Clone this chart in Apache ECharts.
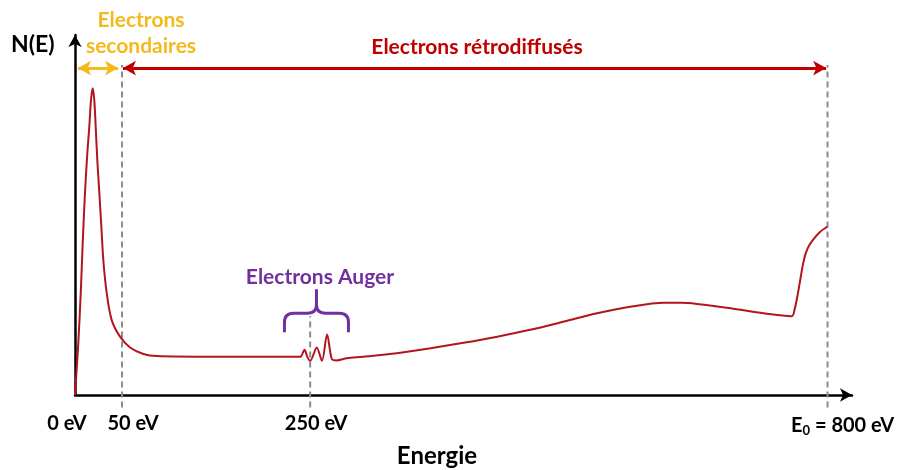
<!DOCTYPE html>
<html>
<head>
<meta charset="utf-8">
<script src="https://cdn.jsdelivr.net/npm/echarts@6/dist/echarts.min.js"></script>
<style>
  html, body { margin: 0; padding: 0; background: #fff; }
  #chart { width: 902px; height: 470px; }
</style>
</head>
<body>
<div id="chart"></div>
<script>
// Electron energy spectrum N(E): energies in eV and relative counts
const energy = [0, 3.5, 6.1, 8.2, 10.6, 13.1, 15.2, 17, 18.8, 20.5, 22, 23.7, 25.9, 28, 30.1, 33.7, 39, 47.9, 58.5, 72.7, 86.9,
  150, 239, 244, 247, 250, 257, 262.5, 268, 273, 278, 289, 306,
  342, 378, 413, 449, 484, 520, 555, 590, 626, 644, 661, 697, 732, 762,
  765, 768, 771, 774, 777, 781, 786, 792, 800];
const counts = [0, 14.4, 28.3, 42.2, 56.1, 67.2, 74.5, 81.9, 85.2, 81.9, 74.5, 65.3, 56, 46.8, 37.5, 28.3, 20.8, 16.2, 13.2, 11.4, 10.8,
  10.6, 10.6, 12.6, 10.6, 9.5, 13.2, 9.5, 16.8, 10, 9.6, 10.2, 10.6,
  11.6, 13, 14.5, 16.2, 18.1, 20.4, 22.7, 24.5, 25.6, 25.6, 25.3, 24.1, 22.7, 21.9,
  23.8, 27.5, 32, 36.5, 39.5, 41.8, 43.6, 45.3, 46.8];

// Labelled energies on the x axis
const tickValues = [0, 50, 250, 800];
const tickLabels = ['0 eV', '50 eV', '250 eV', 'E0 = 800 eV'];

// Vertical guides (energy, top value)
const guideEnergies = [50, 250, 800];
const guideTops = [91.7, 21.9, 91.7];
const guideBottom = -3.5;

// Range arrows: [from eV, to eV] at a common height
const secondaryRange = [3.2, 45.7];
const backscatterRange = [51, 798.5];
const rangeLevel = 90.8;

// Auger brace tip position (eV, N)
const braceTip = [256.7, 29.4];

const FONT = 'Lato, "Open Sans", sans-serif';
const RED = '#C00000';
const CURVE = '#B3151E';
const GOLD = '#F4B91C';
const PURPLE = '#7030A0';
const GREY = '#8C8C8C';

const chart = echarts.init(document.getElementById('chart'), null, { renderer: 'canvas' });

const curveData = energy.map((e, i) => [e, counts[i]]);

// spacer widths shift each tick label off its tick like the typeset axis
const labelShift = [-8, 11, 6, 15];

function tickFormatter(v) {
  const i = tickValues.indexOf(v);
  if (i < 0) return '';
  const s = labelShift[i];
  const spacer = '{sp' + Math.abs(s) + '|}';
  let body;
  if (i === 3) {
    body = '{t|E}{sub|0}{t|' + tickLabels[3].slice(2) + '}';
  } else {
    body = '{t|' + tickLabels[i] + '}';
  }
  return s < 0 ? body + spacer : spacer + body;
}

const rich = {
  t: { fontFamily: FONT, fontWeight: 'bold', fontSize: 20, color: '#000' },
  sub: { fontFamily: FONT, fontWeight: 'bold', fontSize: 13, color: '#000', padding: [10, 0, 0, 0] }
};
labelShift.forEach(s => { rich['sp' + Math.abs(s)] = { width: Math.abs(s) * 2 }; });

const guideSeries = guideEnergies.map((e, i) => ({
  type: 'line',
  data: [[e, guideBottom], [e, guideTops[i]]],
  clip: false,
  showSymbol: false,
  silent: true,
  z: 1,
  lineStyle: { color: GREY, width: 2, type: [6, 4] }
}));

const arrowStyle = (color) => ({
  symbol: ['arrow', 'arrow'],
  symbolSize: [11, 13],
  silent: true,
  label: { show: false },
  lineStyle: { color: color, width: 3, type: 'solid' }
});

const option = {
  animation: false,
  backgroundColor: '#fff',
  grid: { left: 75, right: 50, top: 35, bottom: 75, containLabel: false },
  xAxis: {
    type: 'value',
    min: 0,
    max: 826,
    axisLine: {
      show: true, onZero: true,
      symbol: ['none', 'arrow'], symbolSize: [10, 12],
      lineStyle: { color: '#000', width: 2.5 }
    },
    axisTick: { show: false },
    splitLine: { show: false },
    axisLabel: {
      customValues: tickValues,
      formatter: tickFormatter,
      rich: rich,
      margin: 19
    }
  },
  yAxis: {
    type: 'value',
    min: 0,
    max: 100,
    axisLine: {
      show: true,
      symbol: ['none', 'arrow'], symbolSize: [10, 12],
      lineStyle: { color: '#000', width: 2.5 }
    },
    axisTick: { show: false },
    axisLabel: { show: false },
    splitLine: { show: false }
  },
  series: [
    ...guideSeries,
    {
      type: 'line',
      data: curveData,
      smooth: 0.3,
      showSymbol: false,
      silent: true,
      z: 3,
      lineStyle: { color: CURVE, width: 2 }
    },
    {
      type: 'line',
      data: [],
      silent: true,
      markLine: Object.assign(arrowStyle(GOLD), {
        data: [[{ coord: [secondaryRange[0], rangeLevel], lineStyle: { color: GOLD } },
                { coord: [secondaryRange[1], rangeLevel] }]]
      })
    },
    {
      type: 'line',
      data: [],
      silent: true,
      markLine: Object.assign(arrowStyle(RED), {
        data: [[{ coord: [backscatterRange[0], rangeLevel], lineStyle: { color: RED } },
                { coord: [backscatterRange[1], rangeLevel] }]]
      })
    },
    {
      // curly brace over the Auger peaks
      type: 'custom',
      silent: true,
      data: [braceTip],
      clip: false,
      renderItem: function (params, api) {
        const p = api.coord([api.value(0), api.value(1)]);
        return {
          type: 'path',
          shape: {
            pathData: 'M0 43 L0 33 Q0 24 9 24 L23 24 Q32 24 32 15 L32 0 M32 15 Q32 24 41 24 L55 24 Q64 24 64 33 L64 43',
            x: p[0] - 32, y: p[1], width: 64, height: 43
          },
          style: { stroke: PURPLE, lineWidth: 3, fill: null }
        };
      }
    }
  ],
  graphic: [
    { type: 'text', left: 11, top: 33, style: { text: 'N(E)', fontFamily: FONT, fontWeight: 'bold', fontSize: 23, fill: '#000' } },
    { type: 'text', x: 141, y: 20, style: { text: 'Electrons', align: 'center', verticalAlign: 'middle', fontFamily: FONT, fontWeight: 'bold', fontSize: 21, fill: GOLD } },
    { type: 'text', x: 141, y: 46, style: { text: 'secondaires', align: 'center', verticalAlign: 'middle', fontFamily: FONT, fontWeight: 'bold', fontSize: 21, fill: GOLD } },
    { type: 'text', x: 477, y: 47, style: { text: 'Electrons rétrodiffusés', align: 'center', verticalAlign: 'middle', fontFamily: FONT, fontWeight: 'bold', fontSize: 21, fill: RED } },
    { type: 'text', x: 320, y: 277, style: { text: 'Electrons Auger', align: 'center', verticalAlign: 'middle', fontFamily: FONT, fontWeight: 'bold', fontSize: 21, fill: PURPLE } },
    { type: 'text', x: 437, y: 456, style: { text: 'Energie', align: 'center', verticalAlign: 'middle', fontFamily: FONT, fontWeight: 'bold', fontSize: 24, fill: '#000' } }
  ]
};

chart.setOption(option);
</script>
</body>
</html>
